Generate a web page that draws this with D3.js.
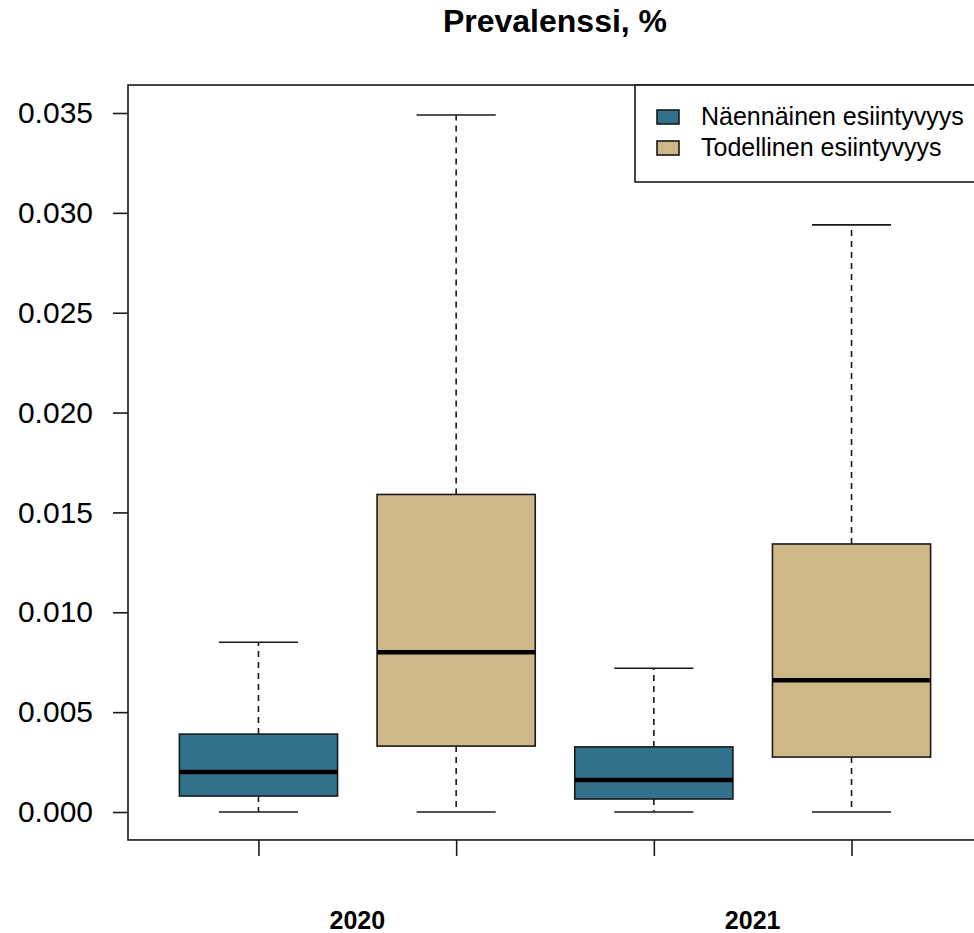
<!DOCTYPE html>
<html>
<head>
<meta charset="utf-8">
<script src="https://cdn.jsdelivr.net/npm/d3@7"></script>
<style>
  body { margin: 0; background: #fff; }
  svg { display: block; font-family: "Liberation Sans", Arial, sans-serif; }
</style>
</head>
<body>
<div id="chart"></div>
<script>
// data
var years = ["2020", "2021"];
var seriesNames = ["Näennäinen esiintyvyys", "Todellinen esiintyvyys"];
var seriesColors = ["#31718b", "#cfb887"];
// boxes in drawing order: 2020 N, 2020 T, 2021 N, 2021 T
var whiskerLow  = [0, 0, 0, 0];
var q1          = [0.0008, 0.0033, 0.00065, 0.00275];
var medians     = [0.0020, 0.0080, 0.0016, 0.0066];
var q3          = [0.0039, 0.0159, 0.00326, 0.01342];
var whiskerHigh = [0.0085, 0.0349, 0.0072, 0.0294];
var yTicks = [0, 0.005, 0.010, 0.015, 0.020, 0.025, 0.030, 0.035];

var width = 974, height = 933;

var svg = d3.select("#chart").append("svg")
    .attr("width", width)
    .attr("height", height);

var x = d3.scaleLinear().domain([0.34, 4.66]).range([128, 982]);
var y = d3.scaleLinear().domain([0, 0.035]).range([812, 113]);

var boxes = medians.map(function (m, i) {
    return {
        pos: i + 1,
        series: i % 2,
        lo: whiskerLow[i], q1: q1[i], med: m, q3: q3[i], hi: whiskerHigh[i]
    };
});

var boxW = x(1.4) - x(1);
var capW = x(1.2) - x(1);
var lineCol = "#1a1a1a";

var g = svg.append("g");

// whiskers
g.selectAll(".whisker-up")
    .data(boxes).enter().append("line")
    .attr("x1", function (d) { return x(d.pos); })
    .attr("x2", function (d) { return x(d.pos); })
    .attr("y1", function (d) { return y(d.q3); })
    .attr("y2", function (d) { return y(d.hi); })
    .attr("stroke", lineCol).attr("stroke-width", 1.6)
    .attr("stroke-dasharray", "6,5");

g.selectAll(".whisker-down")
    .data(boxes).enter().append("line")
    .attr("x1", function (d) { return x(d.pos); })
    .attr("x2", function (d) { return x(d.pos); })
    .attr("y1", function (d) { return y(d.q1); })
    .attr("y2", function (d) { return y(d.lo); })
    .attr("stroke", lineCol).attr("stroke-width", 1.6)
    .attr("stroke-dasharray", "6,5");

// caps
["hi", "lo"].forEach(function (k) {
    g.selectAll(".cap-" + k)
        .data(boxes).enter().append("line")
        .attr("x1", function (d) { return x(d.pos) - capW; })
        .attr("x2", function (d) { return x(d.pos) + capW; })
        .attr("y1", function (d) { return y(d[k]); })
        .attr("y2", function (d) { return y(d[k]); })
        .attr("stroke", lineCol).attr("stroke-width", 1.6);
});

// boxes
g.selectAll(".box")
    .data(boxes).enter().append("rect")
    .attr("x", function (d) { return x(d.pos) - boxW; })
    .attr("width", boxW * 2)
    .attr("y", function (d) { return y(d.q3); })
    .attr("height", function (d) { return y(d.q1) - y(d.q3); })
    .attr("fill", function (d) { return seriesColors[d.series]; })
    .attr("stroke", lineCol).attr("stroke-width", 1.6);

// medians
g.selectAll(".median")
    .data(boxes).enter().append("line")
    .attr("x1", function (d) { return x(d.pos) - boxW; })
    .attr("x2", function (d) { return x(d.pos) + boxW; })
    .attr("y1", function (d) { return y(d.med); })
    .attr("y2", function (d) { return y(d.med); })
    .attr("stroke", "#000").attr("stroke-width", 4.5);

// frame
var frameTop = y(0.0364), frameBottom = y(-0.0014);
svg.append("rect")
    .attr("x", 128).attr("y", frameTop)
    .attr("width", 982 - 128).attr("height", frameBottom - frameTop)
    .attr("fill", "none").attr("stroke", lineCol).attr("stroke-width", 1.6);

// y axis
var yAxis = svg.append("g")
    .attr("transform", "translate(128,0)")
    .call(d3.axisLeft(y).tickValues(yTicks).tickFormat(d3.format(".3f"))
        .tickSize(15).tickPadding(20));
yAxis.select(".domain").remove();
yAxis.selectAll("line").attr("stroke", lineCol).attr("stroke-width", 1.6);
yAxis.selectAll("text")
    .attr("fill", "#000")
    .style("font-size", "30px")
    .style("font-family", "'Liberation Sans', Arial, sans-serif");

// x axis ticks
var xAxis = svg.append("g")
    .attr("transform", "translate(0," + frameBottom + ")")
    .call(d3.axisBottom(x).tickValues([1, 2, 3, 4]).tickFormat("").tickSize(16));
xAxis.select(".domain").remove();
xAxis.selectAll("line").attr("stroke", lineCol).attr("stroke-width", 1.6);

// year labels
svg.selectAll(".year")
    .data(years).enter().append("text")
    .attr("x", function (d, i) { return x(i * 2 + 1.5); })
    .attr("y", 929)
    .attr("text-anchor", "middle")
    .style("font-size", "25px")
    .style("font-weight", "bold")
    .text(function (d) { return d; });

// title
svg.append("text")
    .attr("x", (128 + 982) / 2)
    .attr("y", 32)
    .attr("text-anchor", "middle")
    .style("font-size", "32px")
    .style("font-weight", "bold")
    .text("Prevalenssi, %");

// legend
var legend = svg.append("g");
legend.append("rect")
    .attr("x", 635).attr("y", frameTop)
    .attr("width", 982 - 635).attr("height", 182 - frameTop)
    .attr("fill", "#fff").attr("stroke", lineCol).attr("stroke-width", 1.6);

var items = legend.selectAll(".item")
    .data(seriesNames).enter().append("g")
    .attr("transform", function (d, i) { return "translate(0," + (117 + i * 31) + ")"; });
items.append("rect")
    .attr("x", 657).attr("y", -7)
    .attr("width", 22).attr("height", 14)
    .attr("fill", function (d, i) { return seriesColors[i]; })
    .attr("stroke", lineCol).attr("stroke-width", 1.6);
items.append("text")
    .attr("x", 701).attr("y", 8)
    .style("font-size", "25px")
    .text(function (d) { return d; });
</script>
</body>
</html>
